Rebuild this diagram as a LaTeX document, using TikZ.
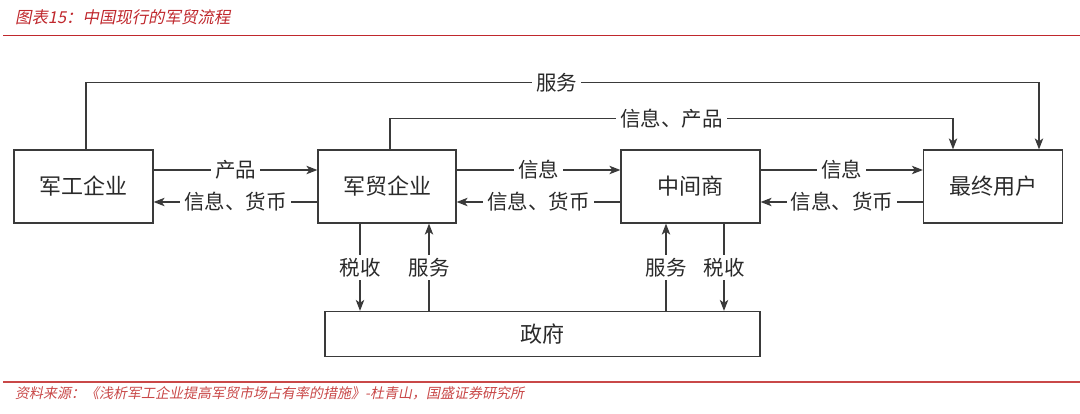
\documentclass[tikz,border=0pt]{standalone}
\usepackage{fontspec}
\setmainfont{Noto Sans CJK SC}
\newfontfamily\cjkit[FakeSlant=0.2]{Noto Sans CJK SC}
\usetikzlibrary{arrows.meta}
\definecolor{titlered}{HTML}{C0282D}
\definecolor{srcred}{HTML}{C94848}
\definecolor{txt}{HTML}{2A2A2A}
\definecolor{linec}{HTML}{3A3A3A}
\begin{document}
\begin{tikzpicture}[x=1pt,y=-1pt,
  box/.style={draw=linec, line width=1.3pt, inner sep=0pt, minimum height=73pt, font=\fontsize{22}{24}\selectfont, text=txt},
  lbl/.style={fill=white, inner xsep=4pt, inner ysep=3pt, font=\fontsize{20.5}{22}\selectfont, text=txt},
  ln/.style={draw=linec, line width=1.1pt},
  arr/.style={ln, -{Stealth[length=11pt,width=8.5pt,inset=3pt]}}]
\useasboundingbox[fill=white] (0,0) rectangle (1080,413);
% header and footer
\node[anchor=west, inner sep=0pt, text=titlered, font=\cjkit\fontsize{16.4}{20}\selectfont] (title) at (15,17) {图表15：中国现行的军贸流程};
\draw[titlered, line width=1.2pt] (3,35.5) -- (1080,35.5);
\draw[srcred, line width=1.6pt] (3,382) -- (1080,382);
\node[anchor=west, inner sep=0pt, text=srcred, font=\cjkit\fontsize{14}{16}\selectfont] (src) at (15,393) {资料来源：《浅析军工企业提高军贸市场占有率的措施》-杜青山，国盛证券研究所};
% boxes
\node[box, minimum width=139pt] (A) at (83.5,186.5) {军工企业};
\node[box, minimum width=138pt] (B) at (387,186.5) {军贸企业};
\node[box, minimum width=139pt] (C) at (690.5,186.5) {中间商};
\node[box, minimum width=139pt] (D) at (993,186.5) {最终用户};
\node[box, minimum width=435pt, minimum height=45pt] (G) at (542.5,334) {政府};
% top long connectors
\draw[arr] ([xshift=2.5pt]A.north) -- ++(0,-67) -| node[lbl, pos=0.247]{服务} ([xshift=46pt]D.north);
\draw[arr] ([xshift=3pt]B.north) -- ++(0,-31) -| node[lbl, pos=0.25]{信息、产品} ([xshift=-40pt]D.north);
% horizontal connectors
\draw[arr] ([yshift=16.5pt]A.east) -- node[lbl]{产品} ([yshift=16.5pt]B.west);
\draw[arr] ([yshift=-15.5pt]B.west) -- node[lbl]{信息、货币} ([yshift=-15.5pt]A.east);
\draw[arr] ([yshift=16.5pt]B.east) -- node[lbl]{信息} ([yshift=16.5pt]C.west);
\draw[arr] ([yshift=-15.5pt]C.west) -- node[lbl]{信息、货币} ([yshift=-15.5pt]B.east);
\draw[arr] ([yshift=16.5pt]C.east) -- node[lbl]{信息} ([yshift=16.5pt]D.west);
\draw[arr] ([yshift=-15.5pt]D.west) -- node[lbl]{信息、货币} ([yshift=-15.5pt]C.east);
% vertical connectors
\path (B.south) ++(-27,0) coordinate (b1);
\path (B.south) ++(42,0) coordinate (b2);
\path (C.south) ++(-24.5,0) coordinate (c1);
\path (C.south) ++(33.5,0) coordinate (c2);
\draw[arr] (b1) -- node[lbl]{税收} (b1 |- G.north);
\draw[arr] (b2 |- G.north) -- node[lbl]{服务} (b2);
\draw[arr] (c1 |- G.north) -- node[lbl]{服务} (c1);
\draw[arr] (c2) -- node[lbl]{税收} (c2 |- G.north);
\end{tikzpicture}
\end{document}
